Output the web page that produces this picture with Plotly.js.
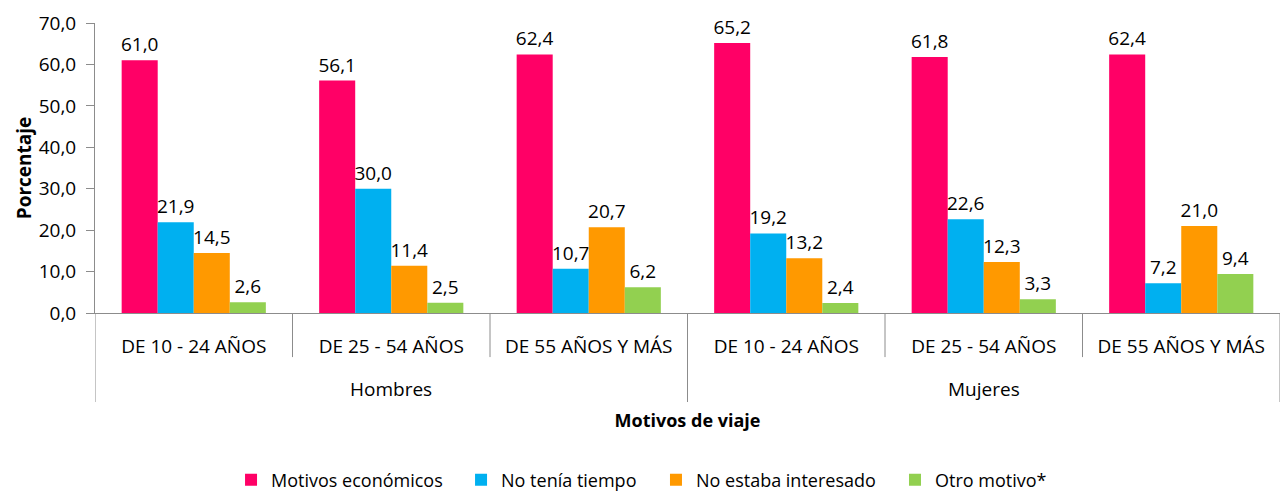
<!DOCTYPE html>
<html>
<head>
<meta charset="utf-8">
<script src="https://cdn.plot.ly/plotly-3.0.1.min.js"></script>
<style>html,body{margin:0;padding:0;background:#fff;}#chart{width:1282px;height:491px;}</style>
</head>
<body>
<div id="chart"></div>
<script>
const ageGroups = ["DE 10 - 24 AÑOS", "DE 25 - 54 AÑOS", "DE 55 AÑOS Y MÁS"];
const sexes = ["Hombres", "Mujeres"];
const seriesNames = ["Motivos económicos", "No tenía tiempo", "No estaba interesado", "Otro motivo*"];
const motivosEconomicos = [61.0, 56.1, 62.4, 65.2, 61.8, 62.4];
const noTeniaTiempo = [21.9, 30.0, 10.7, 19.2, 22.6, 7.2];
const noEstabaInteresado = [14.5, 11.4, 20.7, 13.2, 12.3, 21.0];
const otroMotivo = [2.6, 2.5, 6.2, 2.4, 3.3, 9.4];
const yTicks = [0, 10, 20, 30, 40, 50, 60, 70];

const colors = ["#FF0066", "#00B0F0", "#FF9900", "#92D050"];
const FONT = "'Open Sans', 'Noto Sans', sans-serif";

// positions derived from categories
const xLabels = [];
sexes.forEach(() => ageGroups.forEach(a => xLabels.push(a)));
const xPos = xLabels.map((_, i) => i);

const legendIds = ["legend", "legend2", "legend3", "legend4"];
const legendX = [0.1148, 0.3089, 0.4734, 0.6751];

const values = [motivosEconomicos, noTeniaTiempo, noEstabaInteresado, otroMotivo];
const traces = values.map((v, k) => ({
  type: "bar",
  name: seriesNames[k],
  legend: legendIds[k],
  x: xPos,
  y: v,
  marker: {color: colors[k]},
  texttemplate: "%{y:.1f}",
  textposition: "outside",
  textfont: {family: FONT, size: 19, color: "#000"},
  cliponaxis: false,
  constraintext: "none",
  hoverinfo: "none"
}));

// axis decorations (dividers) derived from category structure
const axisColor = "#8c8c8c";
const shapes = [];
const nAge = ageGroups.length;
const nTot = xPos.length;
for (let b = 0; b <= nTot; b++) {
  const xb = b - 0.5;
  const outer = (b % nAge === 0);
  shapes.push({type: "line", xref: "x", yref: "paper", x0: xb, x1: xb,
    y0: 0, y1: outer ? -0.307 : -0.152, line: {color: axisColor, width: 1}});
}
const annotations = sexes.map((s, i) => ({
  xref: "x", yref: "paper", x: i * nAge + (nAge - 1) / 2, y: -0.262,
  text: s, showarrow: false, yanchor: "middle", xanchor: "center",
  font: {family: FONT, size: 19, color: "#000"}
}));

const layout = {
  width: 1282, height: 491,
  margin: {l: 95, r: 2, t: 23, b: 178, autoexpand: false},
  paper_bgcolor: "#fff", plot_bgcolor: "#fff",
  separators: ",.",
  barmode: "group", bargap: 0.27, bargroupgap: 0,
  showlegend: true,
  xaxis: {
    range: [-0.5, nTot - 0.5],
    tickmode: "array", tickvals: xPos, ticktext: xLabels,
    ticks: "", showline: true, linecolor: axisColor, linewidth: 1,
    showgrid: false, zeroline: false,
    ticklabelstandoff: 16,
    tickfont: {family: FONT, size: 19, color: "#000"},
    title: {text: "<b>Motivos de viaje</b>", standoff: 56, font: {family: FONT, size: 18, color: "#000"}},
    automargin: false, fixedrange: true
  },
  yaxis: {
    range: [0, 70], tickmode: "array", tickvals: yTicks, tickformat: ".1f",
    ticks: "outside", ticklen: 8, tickcolor: axisColor,
    showline: true, linecolor: axisColor, linewidth: 1,
    showgrid: false, zeroline: false,
    ticklabelstandoff: 6,
    tickfont: {family: FONT, size: 19, color: "#000"},
    title: {text: "<b>Porcentaje</b>", standoff: 2, font: {family: FONT, size: 19, color: "#000"}},
    automargin: false, fixedrange: true
  },
  shapes: shapes,
  annotations: annotations,
  font: {family: FONT, color: "#000"}
};
legendIds.forEach((id, k) => {
  layout[id] = {orientation: "h", x: legendX[k], xanchor: "left", y: -0.576, yanchor: "middle",
    font: {family: FONT, size: 18, color: "#000"}, itemclick: false, bgcolor: "rgba(0,0,0,0)"};
});

Plotly.newPlot("chart", traces, layout, {displayModeBar: false, staticPlot: true});
</script>
</body>
</html>
